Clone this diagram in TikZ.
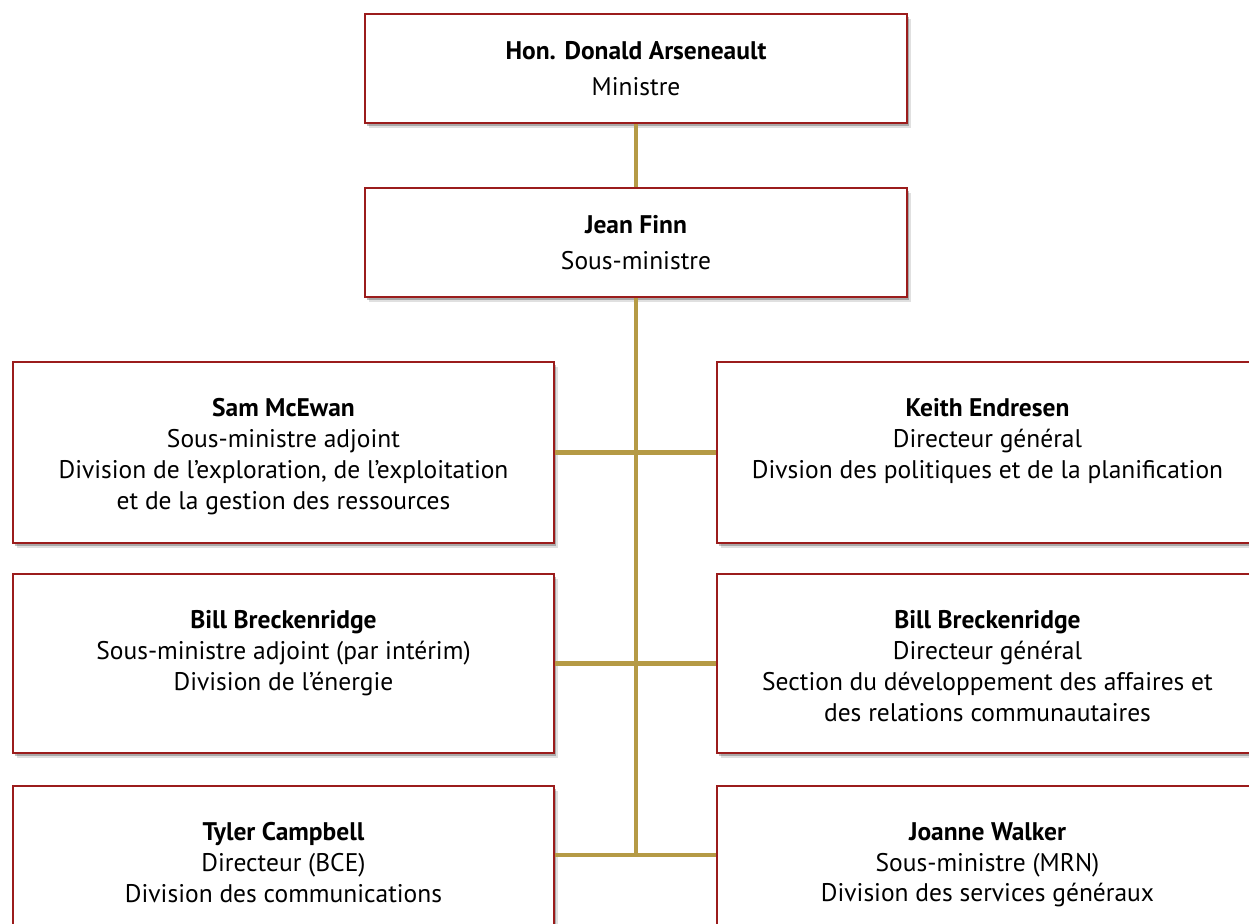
\documentclass[tikz,border=0pt]{standalone}
\usepackage{fontspec}
\setmainfont{PT Sans}
\usetikzlibrary{positioning,shadows}
\definecolor{boxred}{HTML}{9B1C1C}
\definecolor{linkgold}{HTML}{B59A45}

\begin{document}
\begin{tikzpicture}[x=0.02cm, y=-0.02cm,
    box/.style={rectangle, draw=boxred, line width=1.2pt, fill=white, minimum width=10.82cm,
      drop shadow={shadow xshift=2.5pt, shadow yshift=-3pt, opacity=.12, fill=black},
      drop shadow={shadow xshift=1.2pt, shadow yshift=-1.8pt, opacity=.25, fill=black}},
    headbox/.style={box, minimum width=10.84cm, minimum height=2.18cm},
    txt/.style={align=center, inner sep=0pt, font=\fontsize{14.5}{17.6}\selectfont},
    headtxt/.style={align=center, inner sep=0pt, font=\fontsize{14.5}{20.5}\selectfont},
    link/.style={draw=linkgold, line width=2.3pt}]
    \useasboundingbox (0,0) rectangle (1249,924);
    % top of the chart
    \node[headbox] (min) at (636,68.5) {};
    \node[headtxt, below = 0.56cm of min.north] (mintxt) {\textbf{Hon. Donald Arseneault}\\Ministre};
    \node[headbox] (jean) at (636,242.5) {};
    \node[headtxt, below = 0.56cm of jean.north] (jeantxt) {\textbf{Jean Finn}\\Sous-ministre};
    % divisions
    \node[box, minimum height=3.62cm] (sam) at (283.5,452.5) {};
    \node[txt, below = 0.74cm of sam.north] (samtxt) {\textbf{Sam McEwan}\\Sous-ministre adjoint\\Division de l’exploration, de l’exploitation\\et de la gestion des ressources};
    \node[box, minimum height=3.62cm] (keith) at (987.5,452.5) {};
    \node[txt, below = 0.74cm of keith.north] (keithtxt) {\textbf{Keith Endresen}\\Directeur général\\Divsion des politiques et de la planification};
    \node[box, minimum height=3.58cm] (billa) at (283.5,663.5) {};
    \node[txt, below = 0.74cm of billa.north] (billatxt) {\textbf{Bill Breckenridge}\\Sous-ministre adjoint (par intérim)\\Division de l’énergie};
    \node[box, minimum height=3.58cm] (billb) at (987.5,663.5) {};
    \node[txt, below = 0.74cm of billb.north] (billbtxt) {\textbf{Bill Breckenridge}\\Directeur général\\Section du développement des affaires et\\des relations communautaires};
    \node[box, minimum height=3.6cm] (tyler) at (283.5,876) {};
    \node[txt, below = 0.74cm of tyler.north] (tylertxt) {\textbf{Tyler Campbell}\\Directeur (BCE)\\Division des communications};
    \node[box, minimum height=3.6cm] (joanne) at (987.5,876) {};
    \node[txt, below = 0.74cm of joanne.north] (joannetxt) {\textbf{Joanne Walker}\\Sous-ministre (MRN)\\Division des services généraux};
    % connectors
    \coordinate (trunkend) at (636,855);
    \path[link] (min.south) -- (jean.north);
    \path[link] (jean.south) -- (trunkend);
    \path[link] (sam.east) -- (keith.west);
    \path[link] (billa.east) -- (billb.west);
    \path[link] (tyler.east |- trunkend) -- (joanne.west |- trunkend);
\end{tikzpicture}
\end{document}
